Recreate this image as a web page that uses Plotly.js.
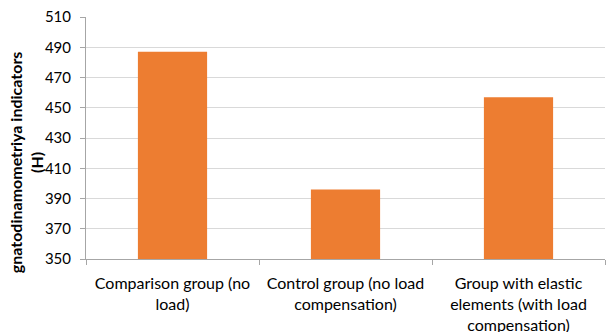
<!DOCTYPE html>
<html><head><meta charset="utf-8">
<script src="https://cdn.plot.ly/plotly-3.0.1.min.js"></script>
<style>body{margin:0;padding:0;background:#fff}#chart{width:614px;height:332px}</style>
</head><body><div id="chart"></div>
<script>
const categories = [
  "Comparison group (no<br>load)",
  "Control group (no load<br>compensation)",
  "Group with elastic<br>elements (with load<br>compensation)"
];
const values = [487, 396, 457];
const yTickVals = [350, 370, 390, 410, 430, 450, 470, 490, 510];
const yTitle = "gnatodinamometriya indicators<br>(H)";

const font = "Lato, Open Sans, sans-serif";
Plotly.newPlot("chart", [{
  type: "bar",
  x: categories,
  y: values,
  marker: {color: "#ED7D31"},
  width: 0.4,
  hoverinfo: "none"
}], {
  width: 614, height: 332,
  margin: {l: 86, r: 9, t: 17, b: 73},
  paper_bgcolor: "#fff", plot_bgcolor: "#fff",
  showlegend: false,
  font: {family: font, size: 15, color: "#000"},
  xaxis: {
    type: "category",
    showline: true, linecolor: "#a6a6a6", linewidth: 1,
    ticks: "outside", ticklen: 5, tickcolor: "#a6a6a6", tickson: "boundaries",
    showgrid: false,
    ticklabelstandoff: 10,
    tickfont: {family: font, size: 16, color: "#000"}
  },
  yaxis: {
    range: [350, 510],
    tickvals: yTickVals,
    showline: true, linecolor: "#a6a6a6", linewidth: 1,
    ticks: "outside", ticklen: 5, tickcolor: "#a6a6a6",
    ticklabelstandoff: 6,
    gridcolor: "#d9d9d9", gridwidth: 1,
    zeroline: false,
    tickfont: {family: font, size: 15, color: "#000"}
  },
  annotations: [{
    text: "<b>" + yTitle + "</b>",
    xref: "paper", yref: "paper",
    x: -0.1156, y: 0.40,
    xanchor: "center", yanchor: "middle",
    textangle: -90, showarrow: false,
    font: {family: font, size: 16, color: "#000"}
  }]
}, {staticPlot: true, displayModeBar: false});
</script></body></html>
